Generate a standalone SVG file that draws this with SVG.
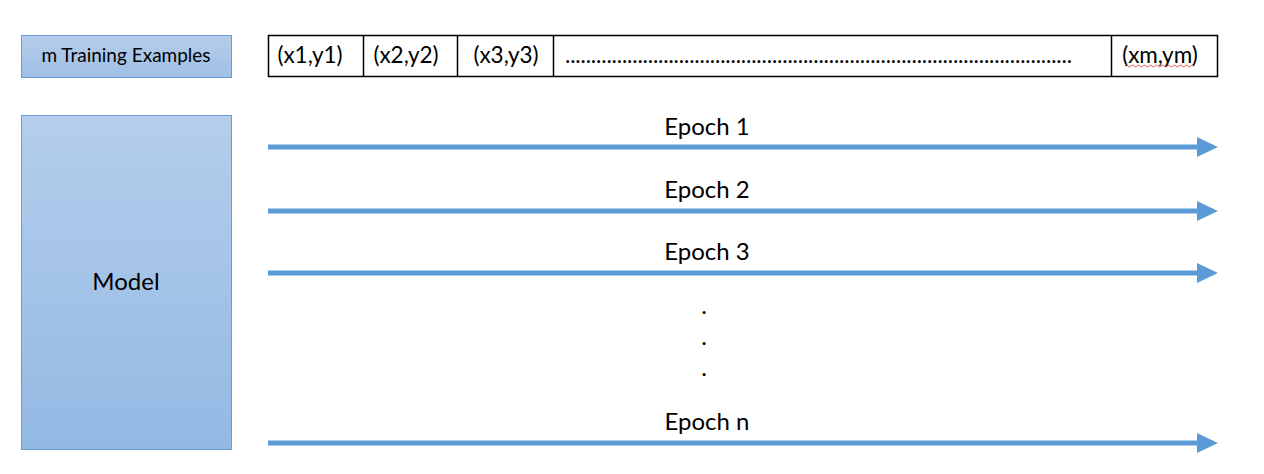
<svg xmlns="http://www.w3.org/2000/svg" width="1264" height="474" viewBox="0 0 1264 474">
  <style>
    .lbl { font-family: Lato, "Open Sans", "Liberation Sans", sans-serif; fill: #000; }
    .cell { font-size: 22.5px; }
    .epoch { font-size: 24px; text-anchor: middle; }
    .bluebox { stroke: #6b9bd2; stroke-width: 1; }
    .seq { fill: #fff; stroke: #000; stroke-width: 1.5; }
    .arrow { stroke: #5b9bd5; stroke-width: 5; fill: none; }
  </style>
  <defs>
    <linearGradient id="gSmall" x1="0" y1="0" x2="0" y2="1">
      <stop offset="0" stop-color="#b5cdea"/>
      <stop offset="1" stop-color="#9fbfe6"/>
    </linearGradient>
    <linearGradient id="gModel" x1="0" y1="0" x2="0" y2="1">
      <stop offset="0" stop-color="#b4ceec"/>
      <stop offset="1" stop-color="#93b9e3"/>
    </linearGradient>
    <marker id="ah" viewBox="0 0 21 20" refX="0" refY="10" markerWidth="21" markerHeight="20" markerUnits="userSpaceOnUse" orient="auto">
      <path d="M0,0 L21,10 L0,20 Z" fill="#5b9bd5"/>
    </marker>
  </defs>

  <g id="training-examples">
    <rect class="bluebox" x="21.5" y="35.5" width="210" height="42" fill="url(#gSmall)"/>
    <text class="lbl" x="126" y="62" font-size="19" text-anchor="middle">m Training Examples</text>
  </g>

  <g id="model">
    <rect class="bluebox" x="21.5" y="115.5" width="210" height="334" fill="url(#gModel)"/>
    <text class="lbl" x="126" y="290" font-size="24" text-anchor="middle">Model</text>
  </g>

  <g id="sequence">
    <rect class="seq" x="268.5" y="35.5" width="949" height="41"/>
    <line x1="363.5" y1="35.5" x2="363.5" y2="76.5" stroke="#000" stroke-width="1.5"/>
    <line x1="457.5" y1="35.5" x2="457.5" y2="76.5" stroke="#000" stroke-width="1.5"/>
    <line x1="553.5" y1="35.5" x2="553.5" y2="76.5" stroke="#000" stroke-width="1.5"/>
    <line x1="1111.5" y1="35.5" x2="1111.5" y2="76.5" stroke="#000" stroke-width="1.5"/>
    <text class="lbl cell" x="310" y="63" text-anchor="middle">(x1,y1)</text>
    <text class="lbl cell" x="406" y="63" text-anchor="middle">(x2,y2)</text>
    <text class="lbl cell" x="506" y="63" text-anchor="middle">(x3,y3)</text>
    <text class="lbl cell" x="565" y="63" textLength="507" lengthAdjust="spacing">..................................................................................................</text>
    <text class="lbl cell" x="1160" y="63" text-anchor="middle">(xm,ym)</text>
    <path d="M1125,66 q1.5,-2 3,0 t3,0 t3,0 t3,0 t3,0 t3,0 t3,0 t3,0 t3,0 t3,0 t3,0 t3,0 t3,0 t3,0 t3,0 t3,0 t3,0 t3,0 t3,0 t3,0 t3,0 t3,0 t3,0" fill="none" stroke="#e03030" stroke-width="0.8"/>
  </g>

  <g id="connectors">
    <line class="arrow" x1="268" y1="147" x2="1197" y2="147" marker-end="url(#ah)"/>
    <line class="arrow" x1="268" y1="211" x2="1197" y2="211" marker-end="url(#ah)"/>
    <line class="arrow" x1="268" y1="273" x2="1197" y2="273" marker-end="url(#ah)"/>
    <line class="arrow" x1="268" y1="443" x2="1197" y2="443" marker-end="url(#ah)"/>
  </g>

  <g id="labels">
    <text class="lbl epoch" x="707" y="135">Epoch 1</text>
    <text class="lbl epoch" x="707" y="198">Epoch 2</text>
    <text class="lbl epoch" x="707" y="260">Epoch 3</text>
    <text class="lbl epoch" x="704" y="314">.</text>
    <text class="lbl epoch" x="704" y="345">.</text>
    <text class="lbl epoch" x="704" y="376">.</text>
    <text class="lbl epoch" x="707" y="430">Epoch n</text>
  </g>
</svg>
